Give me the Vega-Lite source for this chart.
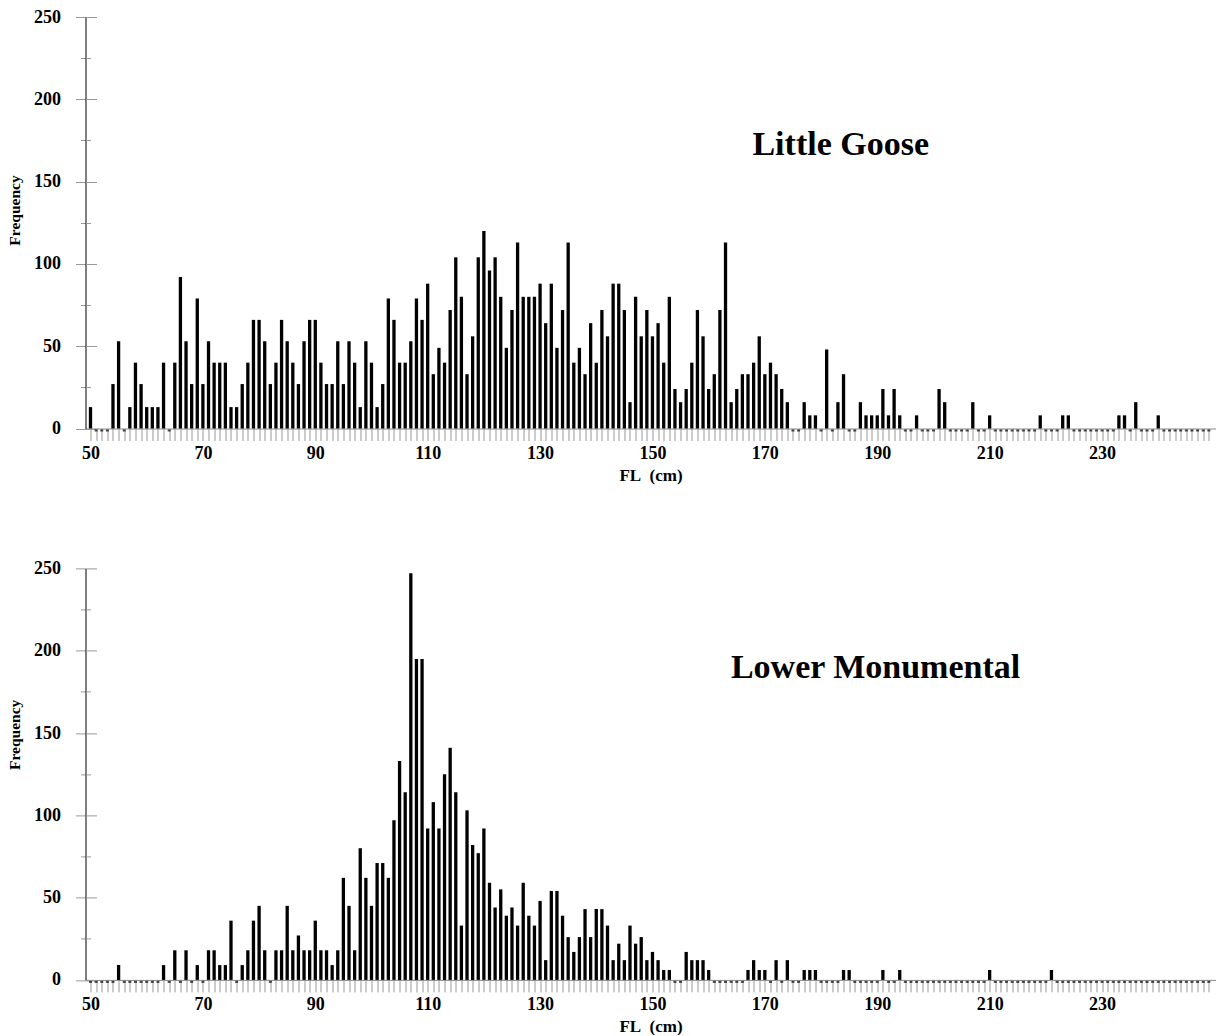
{
  "$schema": "https://vega.github.io/schema/vega-lite/v6.json",
  "background": "white",
  "padding": {"left": 7.5, "top": 8, "right": 0, "bottom": 0},
  "bounds": "flush",
  "spacing": 139.4,
  "config": {
    "view": {"stroke": null}, "font": "Liberation Serif", "axis": {"grid": false},
    "axisX": {"tickSize": 12, "tickColor": "#999", "domainColor": "#888", "labelOverlap": false, "labelFlush": false,
      "labelFont": "Liberation Serif", "labelFontWeight": "bold", "labelFontSize": 18, "labelColor": "black", "labelPadding": 4,
      "titleFont": "Liberation Serif", "titleFontSize": 17, "titleFontWeight": "bold", "titleColor": "black", "titlePadding": 5}
  },
  "datasets": {
    "goose": [
      {"fl":50,"n":13},{"fl":51,"n":0},{"fl":52,"n":0},{"fl":53,"n":0},{"fl":54,"n":27},{"fl":55,"n":53},{"fl":56,"n":0},{"fl":57,"n":13},{"fl":58,"n":40},{"fl":59,"n":27},
      {"fl":60,"n":13},{"fl":61,"n":13},{"fl":62,"n":13},{"fl":63,"n":40},{"fl":64,"n":0},{"fl":65,"n":40},{"fl":66,"n":92},{"fl":67,"n":53},{"fl":68,"n":27},{"fl":69,"n":79},
      {"fl":70,"n":27},{"fl":71,"n":53},{"fl":72,"n":40},{"fl":73,"n":40},{"fl":74,"n":40},{"fl":75,"n":13},{"fl":76,"n":13},{"fl":77,"n":27},{"fl":78,"n":40},{"fl":79,"n":66},
      {"fl":80,"n":66},{"fl":81,"n":53},{"fl":82,"n":27},{"fl":83,"n":40},{"fl":84,"n":66},{"fl":85,"n":53},{"fl":86,"n":40},{"fl":87,"n":27},{"fl":88,"n":53},{"fl":89,"n":66},
      {"fl":90,"n":66},{"fl":91,"n":40},{"fl":92,"n":27},{"fl":93,"n":27},{"fl":94,"n":53},{"fl":95,"n":27},{"fl":96,"n":53},{"fl":97,"n":40},{"fl":98,"n":13},{"fl":99,"n":53},
      {"fl":100,"n":40},{"fl":101,"n":13},{"fl":102,"n":27},{"fl":103,"n":79},{"fl":104,"n":66},{"fl":105,"n":40},{"fl":106,"n":40},{"fl":107,"n":53},{"fl":108,"n":79},{"fl":109,"n":66},
      {"fl":110,"n":88},{"fl":111,"n":33},{"fl":112,"n":49},{"fl":113,"n":40},{"fl":114,"n":72},{"fl":115,"n":104},{"fl":116,"n":80},{"fl":117,"n":33},{"fl":118,"n":56},{"fl":119,"n":104},
      {"fl":120,"n":120},{"fl":121,"n":96},{"fl":122,"n":104},{"fl":123,"n":80},{"fl":124,"n":49},{"fl":125,"n":72},{"fl":126,"n":113},{"fl":127,"n":80},{"fl":128,"n":80},{"fl":129,"n":80},
      {"fl":130,"n":88},{"fl":131,"n":64},{"fl":132,"n":88},{"fl":133,"n":49},{"fl":134,"n":72},{"fl":135,"n":113},{"fl":136,"n":40},{"fl":137,"n":49},{"fl":138,"n":33},{"fl":139,"n":64},
      {"fl":140,"n":40},{"fl":141,"n":72},{"fl":142,"n":56},{"fl":143,"n":88},{"fl":144,"n":88},{"fl":145,"n":72},{"fl":146,"n":16},{"fl":147,"n":80},{"fl":148,"n":56},{"fl":149,"n":72},
      {"fl":150,"n":56},{"fl":151,"n":64},{"fl":152,"n":40},{"fl":153,"n":80},{"fl":154,"n":24},{"fl":155,"n":16},{"fl":156,"n":24},{"fl":157,"n":40},{"fl":158,"n":72},{"fl":159,"n":56},
      {"fl":160,"n":24},{"fl":161,"n":33},{"fl":162,"n":72},{"fl":163,"n":113},{"fl":164,"n":16},{"fl":165,"n":24},{"fl":166,"n":33},{"fl":167,"n":33},{"fl":168,"n":40},{"fl":169,"n":56},
      {"fl":170,"n":33},{"fl":171,"n":40},{"fl":172,"n":33},{"fl":173,"n":24},{"fl":174,"n":16},{"fl":175,"n":0},{"fl":176,"n":0},{"fl":177,"n":16},{"fl":178,"n":8},{"fl":179,"n":8},
      {"fl":180,"n":0},{"fl":181,"n":48},{"fl":182,"n":0},{"fl":183,"n":16},{"fl":184,"n":33},{"fl":185,"n":0},{"fl":186,"n":0},{"fl":187,"n":16},{"fl":188,"n":8},{"fl":189,"n":8},
      {"fl":190,"n":8},{"fl":191,"n":24},{"fl":192,"n":8},{"fl":193,"n":24},{"fl":194,"n":8},{"fl":195,"n":0},{"fl":196,"n":0},{"fl":197,"n":8},{"fl":198,"n":0},{"fl":199,"n":0},
      {"fl":200,"n":0},{"fl":201,"n":24},{"fl":202,"n":16},{"fl":203,"n":0},{"fl":204,"n":0},{"fl":205,"n":0},{"fl":206,"n":0},{"fl":207,"n":16},{"fl":208,"n":0},{"fl":209,"n":0},
      {"fl":210,"n":8},{"fl":211,"n":0},{"fl":212,"n":0},{"fl":213,"n":0},{"fl":214,"n":0},{"fl":215,"n":0},{"fl":216,"n":0},{"fl":217,"n":0},{"fl":218,"n":0},{"fl":219,"n":8},
      {"fl":220,"n":0},{"fl":221,"n":0},{"fl":222,"n":0},{"fl":223,"n":8},{"fl":224,"n":8},{"fl":225,"n":0},{"fl":226,"n":0},{"fl":227,"n":0},{"fl":228,"n":0},{"fl":229,"n":0},
      {"fl":230,"n":0},{"fl":231,"n":0},{"fl":232,"n":0},{"fl":233,"n":8},{"fl":234,"n":8},{"fl":235,"n":0},{"fl":236,"n":16},{"fl":237,"n":0},{"fl":238,"n":0},{"fl":239,"n":0},
      {"fl":240,"n":8},{"fl":241,"n":0},{"fl":242,"n":0},{"fl":243,"n":0},{"fl":244,"n":0},{"fl":245,"n":0},{"fl":246,"n":0},{"fl":247,"n":0},{"fl":248,"n":0},{"fl":249,"n":0}
    ],
    "monumental": [
      {"fl":50,"n":0},{"fl":51,"n":0},{"fl":52,"n":0},{"fl":53,"n":0},{"fl":54,"n":0},{"fl":55,"n":9},{"fl":56,"n":0},{"fl":57,"n":0},{"fl":58,"n":0},{"fl":59,"n":0},
      {"fl":60,"n":0},{"fl":61,"n":0},{"fl":62,"n":0},{"fl":63,"n":9},{"fl":64,"n":0},{"fl":65,"n":18},{"fl":66,"n":0},{"fl":67,"n":18},{"fl":68,"n":0},{"fl":69,"n":9},
      {"fl":70,"n":0},{"fl":71,"n":18},{"fl":72,"n":18},{"fl":73,"n":9},{"fl":74,"n":9},{"fl":75,"n":36},{"fl":76,"n":0},{"fl":77,"n":9},{"fl":78,"n":18},{"fl":79,"n":36},
      {"fl":80,"n":45},{"fl":81,"n":18},{"fl":82,"n":0},{"fl":83,"n":18},{"fl":84,"n":18},{"fl":85,"n":45},{"fl":86,"n":18},{"fl":87,"n":27},{"fl":88,"n":18},{"fl":89,"n":18},
      {"fl":90,"n":36},{"fl":91,"n":18},{"fl":92,"n":18},{"fl":93,"n":9},{"fl":94,"n":18},{"fl":95,"n":62},{"fl":96,"n":45},{"fl":97,"n":18},{"fl":98,"n":80},{"fl":99,"n":62},
      {"fl":100,"n":45},{"fl":101,"n":71},{"fl":102,"n":71},{"fl":103,"n":62},{"fl":104,"n":97},{"fl":105,"n":133},{"fl":106,"n":114},{"fl":107,"n":247},{"fl":108,"n":195},{"fl":109,"n":195},
      {"fl":110,"n":92},{"fl":111,"n":108},{"fl":112,"n":92},{"fl":113,"n":125},{"fl":114,"n":141},{"fl":115,"n":114},{"fl":116,"n":33},{"fl":117,"n":103},{"fl":118,"n":82},{"fl":119,"n":77},
      {"fl":120,"n":92},{"fl":121,"n":59},{"fl":122,"n":44},{"fl":123,"n":55},{"fl":124,"n":39},{"fl":125,"n":44},{"fl":126,"n":33},{"fl":127,"n":59},{"fl":128,"n":39},{"fl":129,"n":33},
      {"fl":130,"n":48},{"fl":131,"n":12},{"fl":132,"n":54},{"fl":133,"n":54},{"fl":134,"n":39},{"fl":135,"n":26},{"fl":136,"n":17},{"fl":137,"n":26},{"fl":138,"n":43},{"fl":139,"n":26},
      {"fl":140,"n":43},{"fl":141,"n":43},{"fl":142,"n":33},{"fl":143,"n":12},{"fl":144,"n":22},{"fl":145,"n":12},{"fl":146,"n":33},{"fl":147,"n":22},{"fl":148,"n":26},{"fl":149,"n":12},
      {"fl":150,"n":17},{"fl":151,"n":12},{"fl":152,"n":6},{"fl":153,"n":6},{"fl":154,"n":0},{"fl":155,"n":0},{"fl":156,"n":17},{"fl":157,"n":12},{"fl":158,"n":12},{"fl":159,"n":12},
      {"fl":160,"n":6},{"fl":161,"n":0},{"fl":162,"n":0},{"fl":163,"n":0},{"fl":164,"n":0},{"fl":165,"n":0},{"fl":166,"n":0},{"fl":167,"n":6},{"fl":168,"n":12},{"fl":169,"n":6},
      {"fl":170,"n":6},{"fl":171,"n":0},{"fl":172,"n":12},{"fl":173,"n":0},{"fl":174,"n":12},{"fl":175,"n":0},{"fl":176,"n":0},{"fl":177,"n":6},{"fl":178,"n":6},{"fl":179,"n":6},
      {"fl":180,"n":0},{"fl":181,"n":0},{"fl":182,"n":0},{"fl":183,"n":0},{"fl":184,"n":6},{"fl":185,"n":6},{"fl":186,"n":0},{"fl":187,"n":0},{"fl":188,"n":0},{"fl":189,"n":0},
      {"fl":190,"n":0},{"fl":191,"n":6},{"fl":192,"n":0},{"fl":193,"n":0},{"fl":194,"n":6},{"fl":195,"n":0},{"fl":196,"n":0},{"fl":197,"n":0},{"fl":198,"n":0},{"fl":199,"n":0},
      {"fl":200,"n":0},{"fl":201,"n":0},{"fl":202,"n":0},{"fl":203,"n":0},{"fl":204,"n":0},{"fl":205,"n":0},{"fl":206,"n":0},{"fl":207,"n":0},{"fl":208,"n":0},{"fl":209,"n":0},
      {"fl":210,"n":6},{"fl":211,"n":0},{"fl":212,"n":0},{"fl":213,"n":0},{"fl":214,"n":0},{"fl":215,"n":0},{"fl":216,"n":0},{"fl":217,"n":0},{"fl":218,"n":0},{"fl":219,"n":0},
      {"fl":220,"n":0},{"fl":221,"n":6},{"fl":222,"n":0},{"fl":223,"n":0},{"fl":224,"n":0},{"fl":225,"n":0},{"fl":226,"n":0},{"fl":227,"n":0},{"fl":228,"n":0},{"fl":229,"n":0},
      {"fl":230,"n":0},{"fl":231,"n":0},{"fl":232,"n":0},{"fl":233,"n":0},{"fl":234,"n":0},{"fl":235,"n":0},{"fl":236,"n":0},{"fl":237,"n":0},{"fl":238,"n":0},{"fl":239,"n":0},
      {"fl":240,"n":0},{"fl":241,"n":0},{"fl":242,"n":0},{"fl":243,"n":0},{"fl":244,"n":0},{"fl":245,"n":0},{"fl":246,"n":0},{"fl":247,"n":0},{"fl":248,"n":0},{"fl":249,"n":0}
    ],
    "label1": [{"label": "Little Goose"}],
    "label2": [{"label": "Lower Monumental"}]
  },
  "vconcat": [
    {
      "width": 1130, "height": 411.5,
      "layer": [
        {
          "data": {"name": "goose"},
          "mark": {"type": "bar", "color": "black", "size": 3.3},
          "encoding": {
            "x": {"field": "fl", "type": "quantitative", "scale": {"domain": [50, 249.3], "nice": false, "zero": false},
              "axis": {"values": [50,51,52,53,54,55,56,57,58,59,60,61,62,63,64,65,66,67,68,69,70,71,72,73,74,75,76,77,78,79,80,81,82,83,84,85,86,87,88,89,90,91,92,93,94,95,96,97,98,99,100,101,102,103,104,105,106,107,108,109,110,111,112,113,114,115,116,117,118,119,120,121,122,123,124,125,126,127,128,129,130,131,132,133,134,135,136,137,138,139,140,141,142,143,144,145,146,147,148,149,150,151,152,153,154,155,156,157,158,159,160,161,162,163,164,165,166,167,168,169,170,171,172,173,174,175,176,177,178,179,180,181,182,183,184,185,186,187,188,189,190,191,192,193,194,195,196,197,198,199,200,201,202,203,204,205,206,207,208,209,210,211,212,213,214,215,216,217,218,219,220,221,222,223,224,225,226,227,228,229,230,231,232,233,234,235,236,237,238,239,240,241,242,243,244,245,246,247,248,249],
                "tickSize": 12, "labelOverlap": false,
                "labelExpr": "(datum.value - 50) % 20 === 0 ? datum.label : ''",
                "title": "FL\u00a0 (cm)"}},
            "y": {"field": "n", "type": "quantitative", "scale": {"domain": [0, 250], "nice": false},
              "axis": {"orient": "left", "values": [0,25,50,75,100,125,150,175,200,225,250],
                "tickSize": {"condition": {"test": "datum.value % 50 === 0", "value": 10}, "value": 5},
                "tickColor": "#999", "domainColor": "black",
                "labelExpr": "datum.value % 50 === 0 ? datum.label : ''", "labelOverlap": false,
                "labelFont": "Liberation Serif", "labelFontWeight": "bold", "labelFontSize": 18, "labelColor": "black", "labelPadding": 15,
                "title": "Frequency", "titleFont": "Liberation Serif", "titleFontSize": 15.5, "titleFontWeight": "bold", "titleColor": "black", "titlePadding": 11, "titleY": 193}}
          }
        },
        {
          "data": {"name": "goose"},
          "transform": [{"filter": "datum.n === 0"}],
          "mark": {"type": "tick", "orient": "horizontal", "color": "black", "size": 3, "thickness": 2, "yOffset": 2},
          "encoding": {
            "x": {"field": "fl", "type": "quantitative", "axis": null},
            "y": {"field": "n", "type": "quantitative",
              "axis": {"orient": "left", "values": [0,25,50,75,100,125,150,175,200,225,250],
                "tickSize": {"condition": {"test": "datum.value % 50 === 0", "value": -11}, "value": -5},
                "tickColor": "#999", "labels": false, "domain": false, "title": null}}
          }
        },
        {
          "data": {"name": "label1"},
          "mark": {"type": "text", "font": "Liberation Serif", "fontWeight": "bold", "fontSize": 34, "color": "black"},
          "encoding": {
            "x": {"datum": 183.5, "type": "quantitative", "axis": null},
            "y": {"datum": 172, "type": "quantitative", "axis": null},
            "text": {"field": "label"}
          }
        }
      ],
      "resolve": {"axis": {"x": "independent", "y": "independent"}}
    },
    {
      "width": 1130, "height": 411.5,
      "layer": [
        {
          "data": {"name": "monumental"},
          "mark": {"type": "bar", "color": "black", "size": 3.3},
          "encoding": {
            "x": {"field": "fl", "type": "quantitative", "scale": {"domain": [50, 249.3], "nice": false, "zero": false},
              "axis": {"values": [50,51,52,53,54,55,56,57,58,59,60,61,62,63,64,65,66,67,68,69,70,71,72,73,74,75,76,77,78,79,80,81,82,83,84,85,86,87,88,89,90,91,92,93,94,95,96,97,98,99,100,101,102,103,104,105,106,107,108,109,110,111,112,113,114,115,116,117,118,119,120,121,122,123,124,125,126,127,128,129,130,131,132,133,134,135,136,137,138,139,140,141,142,143,144,145,146,147,148,149,150,151,152,153,154,155,156,157,158,159,160,161,162,163,164,165,166,167,168,169,170,171,172,173,174,175,176,177,178,179,180,181,182,183,184,185,186,187,188,189,190,191,192,193,194,195,196,197,198,199,200,201,202,203,204,205,206,207,208,209,210,211,212,213,214,215,216,217,218,219,220,221,222,223,224,225,226,227,228,229,230,231,232,233,234,235,236,237,238,239,240,241,242,243,244,245,246,247,248,249],
                "tickSize": 12, "labelOverlap": false,
                "labelExpr": "(datum.value - 50) % 20 === 0 ? datum.label : ''",
                "title": "FL\u00a0 (cm)"}},
            "y": {"field": "n", "type": "quantitative", "scale": {"domain": [0, 250], "nice": false},
              "axis": {"orient": "left", "values": [0,25,50,75,100,125,150,175,200,225,250],
                "tickSize": {"condition": {"test": "datum.value % 50 === 0", "value": 10}, "value": 5},
                "tickColor": "#999", "domainColor": "black",
                "labelExpr": "datum.value % 50 === 0 ? datum.label : ''", "labelOverlap": false,
                "labelFont": "Liberation Serif", "labelFontWeight": "bold", "labelFontSize": 18, "labelColor": "black", "labelPadding": 15,
                "title": "Frequency", "titleFont": "Liberation Serif", "titleFontSize": 15.5, "titleFontWeight": "bold", "titleColor": "black", "titlePadding": 11, "titleY": 166}}
          }
        },
        {
          "data": {"name": "monumental"},
          "transform": [{"filter": "datum.n === 0"}],
          "mark": {"type": "tick", "orient": "horizontal", "color": "black", "size": 3, "thickness": 2, "yOffset": 2},
          "encoding": {
            "x": {"field": "fl", "type": "quantitative", "axis": null},
            "y": {"field": "n", "type": "quantitative",
              "axis": {"orient": "left", "values": [0,25,50,75,100,125,150,175,200,225,250],
                "tickSize": {"condition": {"test": "datum.value % 50 === 0", "value": -11}, "value": -5},
                "tickColor": "#999", "labels": false, "domain": false, "title": null}}
          }
        },
        {
          "data": {"name": "label2"},
          "mark": {"type": "text", "font": "Liberation Serif", "fontWeight": "bold", "fontSize": 34, "color": "black"},
          "encoding": {
            "x": {"datum": 189.7, "type": "quantitative", "axis": null},
            "y": {"datum": 189.7, "type": "quantitative", "axis": null},
            "text": {"field": "label"}
          }
        }
      ],
      "resolve": {"axis": {"x": "independent", "y": "independent"}}
    }
  ]
}
